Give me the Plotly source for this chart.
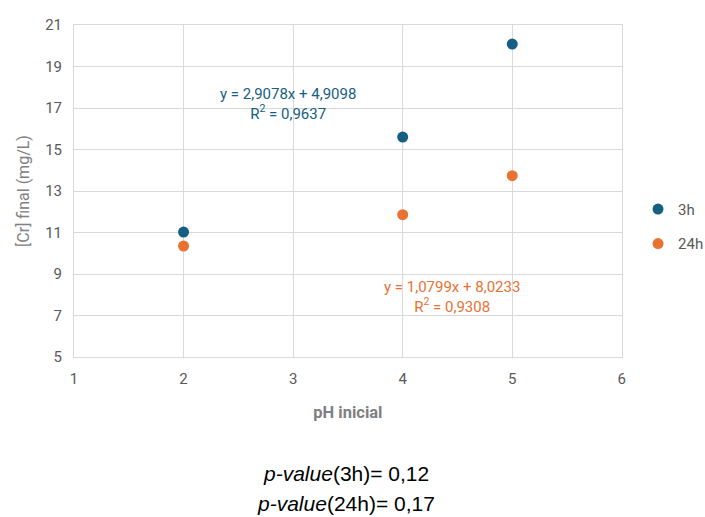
import plotly.graph_objects as go

ph = [2, 4, 5]
cr_3h = [11.02, 15.6, 20.08]
cr_24h = [10.35, 11.86, 13.74]
series_names = ["3h", "24h"]
eq_3h = "y = 2,9078x + 4,9098<br>R<sup>2</sup> = 0,9637"
eq_24h = "y = 1,0799x + 8,0233<br>R<sup>2</sup> = 0,9308"
pvals = ["<i>p-value</i>(3h)= 0,12", "<i>p-value</i>(24h)= 0,17"]

BLUE = "#156082"
ORANGE = "#E97132"
GRAY = "#595959"
FONT = "Roboto, Lato, sans-serif"

fig = go.Figure()
fig.add_trace(go.Scatter(x=ph, y=cr_3h, mode="markers", name=series_names[0],
                         legendgroup="a",
                         marker=dict(color=BLUE, size=11)))
fig.add_trace(go.Scatter(x=ph, y=cr_24h, mode="markers", name=series_names[1],
                         legendgroup="b",
                         marker=dict(color=ORANGE, size=11)))

fig.add_annotation(x=2.955, y=17.18, xref="x", yref="y", text=eq_3h, showarrow=False,
                   font=dict(color=BLUE, size=15, family=FONT), align="center")
fig.add_annotation(x=4.45, y=7.9, xref="x", yref="y", text=eq_24h, showarrow=False,
                   font=dict(color=ORANGE, size=15, family=FONT), align="center")
fig.add_annotation(x=0.497, y=-0.35, xref="paper", yref="paper", text=pvals[0], showarrow=False,
                   font=dict(color="black", size=21, family="Arial, Liberation Sans"),
                   xanchor="center", yanchor="middle")
fig.add_annotation(x=0.497, y=-0.44, xref="paper", yref="paper", text=pvals[1], showarrow=False,
                   font=dict(color="black", size=21, family="Arial, Liberation Sans"),
                   xanchor="center", yanchor="middle")

fig.update_layout(
    width=705, height=517,
    margin=dict(l=74, r=82, t=25, b=160),
    plot_bgcolor="white", paper_bgcolor="white",
    font=dict(family=FONT, color=GRAY, size=15),
    showlegend=True,
    legend=dict(xref="container", yref="container", x=0.905, y=0.627,
                xanchor="left", yanchor="top",
                font=dict(size=15, color=GRAY, family=FONT),
                traceorder="grouped", tracegroupgap=12,
                itemwidth=30, bgcolor="rgba(0,0,0,0)"),
    xaxis=dict(range=[1, 6], dtick=1, tick0=1, showgrid=True, gridcolor="#d9d9d9",
               showline=True, linecolor="#d9d9d9", mirror=True, zeroline=False,
               ticks="", ticklabelstandoff=8,
               title=dict(text="<b>pH inicial</b>", font=dict(size=16.5, color="#808080"), standoff=19)),
    yaxis=dict(range=[5, 21], dtick=2, tick0=5, showgrid=True, gridcolor="#d9d9d9",
               showline=True, linecolor="#d9d9d9", mirror=True, zeroline=False,
               ticks="", ticklabelstandoff=8,
               title=dict(text="[Cr] final (mg/L)", font=dict(size=16, color="#808080"), standoff=11)),
)

fig.write_html("out.html")
